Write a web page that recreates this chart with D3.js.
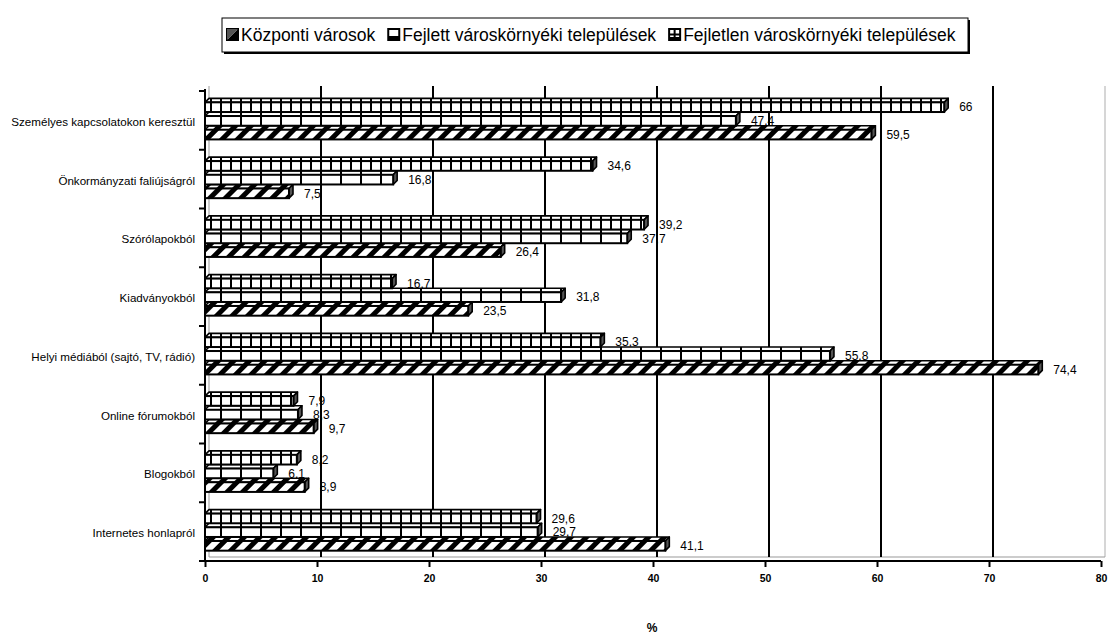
<!DOCTYPE html>
<html><head><meta charset="utf-8">
<script src="https://cdn.jsdelivr.net/npm/d3@7"></script>
<style>body{margin:0;background:#fff;font-family:"Liberation Sans",Arial,sans-serif}</style>
</head><body><svg id="c" width="1109" height="634"></svg>
<script>
const categories = ["Személyes kapcsolatokon keresztül","Önkormányzati faliújságról","Szórólapokból","Kiadványokból","Helyi médiából (sajtó, TV, rádió)","Online fórumokból","Blogokból","Internetes honlapról"];
const seriesNames = ["Központi városok","Fejlett városkörnyéki települések","Fejletlen városkörnyéki települések"];
const kozponti = [59.5,7.5,26.4,23.5,74.4,9.7,8.9,41.1];
const fejlett = [47.4,16.8,37.7,31.8,55.8,8.3,6.1,29.7];
const fejletlen = [66,34.6,39.2,16.7,35.3,7.9,8.2,29.6];
const xTicks = [0,10,20,30,40,50,60,70,80];
const axisTitle = "%";

const svg = d3.select("#c");
const defs = svg.append("defs");
// patterns
const pH = defs.append("pattern").attr("id","pHatch").attr("patternUnits","userSpaceOnUse")
  .attr("width",11).attr("height",11).attr("patternTransform","rotate(45)");
pH.append("rect").attr("width",11).attr("height",11).attr("fill","#fff");
pH.append("rect").attr("x",0).attr("width",5).attr("height",11).attr("fill","#000");
const pF = defs.append("pattern").attr("id","pFejlett").attr("patternUnits","userSpaceOnUse")
  .attr("width",20).attr("height",10);
pF.append("rect").attr("width",20).attr("height",10).attr("fill","#fff");
pF.append("rect").attr("x",0).attr("width",2).attr("height",10).attr("fill","#000");
const pG = defs.append("pattern").attr("id","pGrid").attr("patternUnits","userSpaceOnUse")
  .attr("width",10).attr("height",10);
pG.append("rect").attr("width",10).attr("height",10).attr("fill","#fff");
pG.append("rect").attr("x",0).attr("width",2).attr("height",10).attr("fill","#000");

const fills = ["url(#pHatch)","url(#pFejlett)","url(#pGrid)"];
const series = [kozponti, fejlett, fejletlen];

const D = 4; // depth
const x = d3.scaleLinear().domain([0,80]).range([205,1101]);
const y = d3.scaleBand().domain(categories).range([91,561]);
const slot = 13.7;
function slotTop(cat, si){
  const c = y(cat) + y.bandwidth()/2 - 1.5;
  const order = 2 - si; // 0 top
  return c - 1.5*slot + order*slot;
}

// back wall / gridlines
const gTop = 86, gBot = 557;
svg.append("line").attr("x1",x(80)+D).attr("x2",x(80)+D).attr("y1",gTop).attr("y2",gBot)
  .attr("stroke","#c8c8c8").attr("stroke-width",1.5);
svg.append("line").attr("x1",x(0)+D).attr("x2",x(0)+D).attr("y1",gTop).attr("y2",gBot)
  .attr("stroke","#999").attr("stroke-width",1);
svg.append("line").attr("x1",x(0)+D).attr("x2",x(80)+D).attr("y1",gBot).attr("y2",gBot)
  .attr("stroke","#999").attr("stroke-width",1);
svg.selectAll(".grid").data(xTicks.filter(t=>t>0&&t<80)).enter().append("line")
  .attr("x1",d=>x(d)+D).attr("x2",d=>x(d)+D).attr("y1",gTop).attr("y2",gBot)
  .attr("stroke","#000").attr("stroke-width",2);

// value labels (drawn beneath bars)
const fmt = v => String(v).replace(".",",");
series.forEach((vals,si)=>{
  svg.selectAll(".vl"+si).data(categories).enter().append("text")
    .attr("x",(c,i)=>x(vals[i])+D+11)
    .attr("y",c=>slotTop(c,si)+D+(slot-D)/2)
    .attr("dy","0.35em").attr("font-size","12px").attr("fill","#000")
    .text((c,i)=>fmt(vals[i]));
});

// bars
series.forEach((vals,si)=>{
  const g = svg.append("g");
  categories.forEach((c,i)=>{
    const v = vals[i];
    const t = slotTop(c,si);
    const x0 = x(0), x1 = x(v);
    const fy = t + D, fh = slot - D;
    g.append("path").attr("d",`M${x0},${fy}L${x0+D},${t}L${x1+D},${t}L${x1},${fy}Z`)
      .attr("fill",fills[si]).attr("stroke","#000").attr("stroke-width",1.6).attr("stroke-linejoin","round");
    g.append("path").attr("d",`M${x1},${fy}L${x1+D},${t}L${x1+D},${t+fh}L${x1},${fy+fh}Z`)
      .attr("fill","#555").attr("stroke","#000").attr("stroke-width",1.6).attr("stroke-linejoin","round");
    g.append("rect").attr("x",x0).attr("y",fy).attr("width",x1-x0).attr("height",fh)
      .attr("fill",fills[si]).attr("stroke","#000").attr("stroke-width",2);
  });
});

// axes
const xAxisY = 561;
const ax = svg.append("g").attr("transform",`translate(0,${xAxisY})`)
  .call(d3.axisBottom(x).tickValues(xTicks).tickSize(6).tickSizeOuter(0).tickFormat(d3.format("d")));
ax.select(".domain").attr("stroke","#000").attr("stroke-width",2).attr("d",`M199,0H${x(80)}`);
ax.selectAll(".tick line").attr("stroke","#000").attr("stroke-width",2);
ax.selectAll(".tick text").attr("font-family","Liberation Sans, Arial").attr("font-size","10.5px")
  .attr("font-weight","bold").attr("fill","#000").attr("dy","1.1em");

const ay = svg.append("g").attr("transform",`translate(${x(0)},0)`)
  .call(d3.axisLeft(y).tickSize(0).tickPadding(10));
ay.select(".domain").attr("stroke","#000").attr("stroke-width",2).attr("d",`M0,89V561`);
ay.selectAll(".tick text").remove();
svg.selectAll(".ctick").data(categories).enter().append("line")
  .attr("x1",x(0)-6).attr("x2",x(0)).attr("y1",c=>y(c)).attr("y2",c=>y(c))
  .attr("stroke","#000").attr("stroke-width",2);
svg.selectAll(".clab").data(categories).enter().append("text")
  .attr("x",195).attr("y",c=>slotTop(c,1)+D+(slot-D)/2+1)
  .attr("dy","0.35em").attr("text-anchor","end").attr("font-size","11.6px").attr("fill","#000")
  .text(c=>c);

svg.append("text").attr("x",652).attr("y",632).attr("text-anchor","middle")
  .attr("font-size","12px").attr("font-weight","bold").text(axisTitle);

// legend
const lg = svg.append("g");
lg.append("rect").attr("x",224).attr("y",20).attr("width",746).attr("height",34).attr("fill","#000");
lg.append("rect").attr("x",222).attr("y",18).attr("width",746).attr("height",34)
  .attr("fill","#fff").attr("stroke","#000").attr("stroke-width",1);
function icon(g, si, ix, iy){
  const s = 11;
  g.append("rect").attr("x",ix).attr("y",iy).attr("width",s).attr("height",s)
    .attr("fill","#fff").attr("stroke","#000").attr("stroke-width",2);
  if(si===0){
    g.append("path").attr("d",`M${ix},${iy+s}L${ix+s},${iy}L${ix+s},${iy+s}Z`).attr("fill","#000");
    g.append("path").attr("d",`M${ix},${iy}L${ix+s},${iy}L${ix},${iy+s}Z`).attr("fill","#555");
  } else if(si===1){
    g.append("rect").attr("x",ix).attr("y",iy+s-4).attr("width",s).attr("height",4).attr("fill","#000");
  } else {
    g.append("line").attr("x1",ix+s/2).attr("x2",ix+s/2).attr("y1",iy).attr("y2",iy+s).attr("stroke","#000").attr("stroke-width",2);
    g.append("line").attr("x1",ix).attr("x2",ix+s).attr("y1",iy+s/2).attr("y2",iy+s/2).attr("stroke","#000").attr("stroke-width",2);
    g.append("rect").attr("x",ix).attr("y",iy+s-3).attr("width",s).attr("height",3).attr("fill","#000");
  }
}
let lx = 227;
seriesNames.forEach((n,si)=>{
  icon(lg, si, lx, 29);
  const t = lg.append("text").attr("x",lx+14).attr("y",35).attr("dy","0.35em")
    .attr("font-size","17.5px").attr("fill","#000").text(n);
  lx += 14 + t.node().getComputedTextLength() + 13;
});
</script></body></html>
